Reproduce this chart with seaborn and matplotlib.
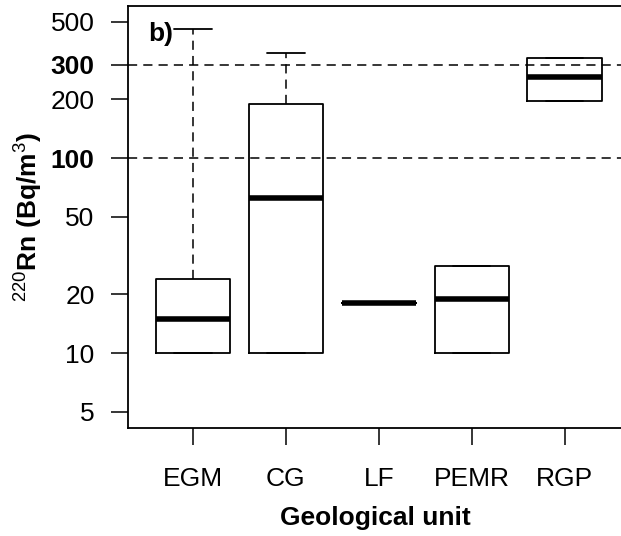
import numpy as np
import pandas as pd
import matplotlib
matplotlib.use("Agg")
import matplotlib.pyplot as plt
import seaborn as sns

# data -- values chosen so quartiles/ranges match the boxes
units = ["EGM", "CG", "LF", "PEMR", "RGP"]
egm = [10, 10, 10, 15, 24, 24, 460]
cg = [10, 10, 10, 62, 190, 190, 345]
lf = [18, 18, 18]
pemr = [10, 10, 10, 19, 28, 28, 28]
rgp = [196, 196, 260, 326, 326]
ref_lines = [100, 300]
yticks = [5, 10, 20, 50, 100, 200, 300, 500]

df = pd.concat([
    pd.DataFrame({"unit": u, "rn": v})
    for u, v in zip(units, [egm, cg, lf, pemr, rgp])
], ignore_index=True)

sns.set_theme(style="white")
plt.rcParams["font.family"] = ["Liberation Sans", "DejaVu Sans"]
plt.rcParams["mathtext.fontset"] = "custom"
plt.rcParams["mathtext.rm"] = "Liberation Sans"
plt.rcParams["mathtext.bf"] = "Liberation Sans:bold"
plt.rcParams["text.color"] = "black"
plt.rcParams["axes.labelcolor"] = "black"
plt.rcParams["xtick.color"] = "black"
plt.rcParams["ytick.color"] = "black"

fs = 19

fig = plt.figure(figsize=(6.21, 5.36), dpi=100)
ax = fig.add_axes([128 / 621, 1 - 428 / 536, 1 - 128 / 621 + 0.002, (428 - 6) / 536])

sns.boxplot(data=df, x="unit", y="rn", order=units, ax=ax,
            log_scale=True, whis=np.inf, width=0.8, fill=False,
            color="black", linewidth=1.3,
            medianprops={"linewidth": 4, "color": "black"},
            whiskerprops={"linestyle": (0, (6, 4)), "linewidth": 1.1},
            boxprops={"linewidth": 1.3},
            capprops={"linewidth": 1.3})

# reference levels
for v in ref_lines:
    ax.axhline(v, color="black", lw=1.1, ls=(0, (6, 4)), zorder=5)

ax.set_xlim(-0.7, 4.62)
ax.set_ylim(4.125, 602)
ax.set_yticks(yticks)
ax.set_yticklabels([str(t) for t in yticks])
ax.minorticks_off()
for lab in ax.get_yticklabels():
    if lab.get_text() in ("100", "300"):
        lab.set_fontweight("bold")

ax.tick_params(axis="both", which="major", direction="out", length=12, width=1.1,
               labelsize=fs, color="black", labelcolor="black",
               left=True, bottom=True)
ax.tick_params(axis="y", pad=12)
ax.tick_params(axis="x", pad=16)

for s in ["top", "left", "bottom"]:
    ax.spines[s].set_visible(True)
    ax.spines[s].set_color("black")
    ax.spines[s].set_linewidth(1.3)
ax.spines["right"].set_visible(False)

ax.set_xlabel("Geological unit", fontsize=fs, fontweight="bold", labelpad=11)
ax.set_ylabel(r"$^{220}$Rn (Bq/m$^{3}$)", fontsize=fs, fontweight="bold", labelpad=5)
ax.text(0.04, 0.962, "b)", transform=ax.transAxes, fontsize=fs,
        fontweight="bold", va="top", ha="left")

plt.savefig("out.png", dpi=100)
